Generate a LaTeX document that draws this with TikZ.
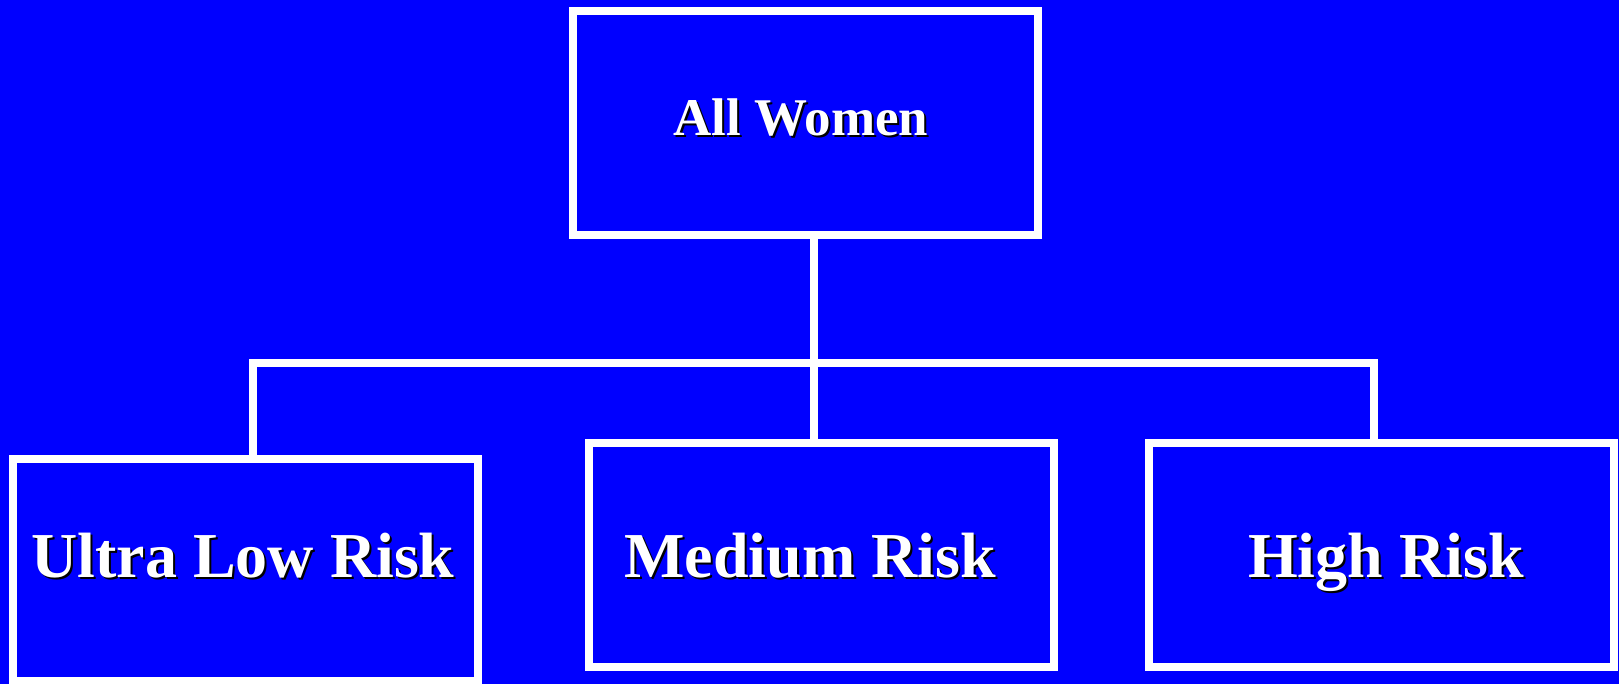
\documentclass[tikz,border=0pt]{standalone}
\usepackage{fontspec}
\setmainfont{Liberation Serif}
\definecolor{bg}{RGB}{0,0,255}
\tikzset{
  box/.style={draw=white, line width=8pt, inner sep=0pt, outer sep=0pt, anchor=north west},
  conn/.style={draw=white, line width=8pt},
  lblshadow/.style={text=black, inner sep=0pt, anchor=base, font=\bfseries},
  lbl/.style={text=white, inner sep=0pt, anchor=base, font=\bfseries},
  big/.style={font=\bfseries\fontsize{64}{70}\selectfont},
  mid/.style={font=\bfseries\fontsize{53}{60}\selectfont}
}
\begin{document}
\begin{tikzpicture}[x=1pt,y=-1pt]
\useasboundingbox (0,0) rectangle (1619,684);
\fill[bg] (0,0) rectangle (1619,684);
% boxes
\node[box, minimum width=464.5pt, minimum height=224pt] (top) at (573,11) {};
\node[box, minimum width=464.2pt, minimum height=222pt] (ulow) at (13.3,459) {};
\node[box, minimum width=465pt, minimum height=223.7pt] (med) at (589,443) {};
\node[box, minimum width=465pt, minimum height=223.7pt] (high) at (1149,443) {};
% connectors
\coordinate (mx) at (813.7,0);
\coordinate (hl) at (253.3,363);
\coordinate (hr) at (1373.7,363);
\draw[conn] (top.south -| mx) -- (med.north -| mx);
\draw[conn] (ulow.north -| hl) -- (hl) -- (hr) -- (high.north -| hr);
% labels with shadows
\node[lblshadow, mid] (t1s) at (803,138) {All Women};
\node[lbl, mid] (t1) at (801,136) {All Women};
\node[lblshadow, big] (t2s) at (245,579) {Ultra Low Risk};
\node[lbl, big] (t2) at (243,577) {Ultra Low Risk};
\node[lblshadow, big] (t3s) at (812,579) {Medium Risk};
\node[lbl, big] (t3) at (810,577) {Medium Risk};
\node[lblshadow, big] (t4s) at (1388,579) {High Risk};
\node[lbl, big] (t4) at (1386,577) {High Risk};
\end{tikzpicture}
\end{document}
